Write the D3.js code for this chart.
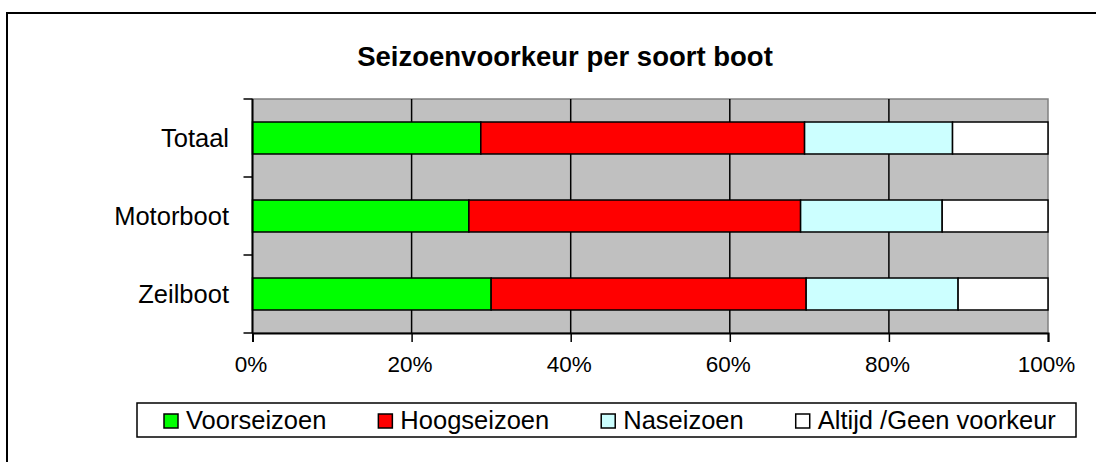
<!DOCTYPE html>
<html>
<head>
<meta charset="utf-8">
<script src="https://cdn.jsdelivr.net/npm/d3@7"></script>
<style>
  body { margin: 0; background: #fff; }
  text { font-family: Arial, "Liberation Sans", sans-serif; fill: #000; }
</style>
</head>
<body>
<script>
// chart data (percent)
const categories = ["Totaal", "Motorboot", "Zeilboot"];
const seriesNames = ["Voorseizoen", "Hoogseizoen", "Naseizoen", "Altijd /Geen voorkeur"];
const voorseizoen = [28.7, 27.2, 30.0];
const hoogseizoen = [40.7, 41.7, 39.6];
const naseizoen = [18.6, 17.8, 19.1];
const altijd = [12.0, 13.3, 11.3];
const tickValues = [0, 20, 40, 60, 80, 100];
const seriesColors = ["#00ff00", "#ff0000", "#ccffff", "#ffffff"];

const width = 1096, height = 462;

let svg = d3.select("body").append("svg")
    .attr("width", width)
    .attr("height", height);

// outer chart frame (runs off the right and bottom edge)
svg.append("rect")
    .attr("x", 7).attr("y", 13)
    .attr("width", 1100).attr("height", 470)
    .attr("fill", "#fff").attr("stroke", "#000").attr("stroke-width", 2);

// title
svg.append("text")
    .attr("x", 565).attr("y", 66)
    .attr("text-anchor", "middle")
    .style("font-size", "27.5px").style("font-weight", "bold")
    .text("Seizoenvoorkeur per soort boot");

let x = d3.scaleLinear().domain([0, 100]).range([252.5, 1048]);
let y = d3.scaleBand().domain(categories).range([99, 333])
    .paddingInner(0.59).paddingOuter(0.295);

// table for the stack
let rows = categories.map((c, i) => ({
    cat: c,
    [seriesNames[0]]: voorseizoen[i],
    [seriesNames[1]]: hoogseizoen[i],
    [seriesNames[2]]: naseizoen[i],
    [seriesNames[3]]: altijd[i]
}));
let stacked = d3.stack().keys(seriesNames)(rows);

// plot area background
svg.append("rect")
    .attr("x", x(0)).attr("y", 99)
    .attr("width", x(100) - x(0)).attr("height", 333 - 99)
    .attr("fill", "#c0c0c0").attr("stroke", "#808080").attr("stroke-width", 1.5);

// vertical gridlines
svg.selectAll(".grid")
    .data(tickValues.slice(1, -1))
    .enter().append("line")
    .attr("class", "grid")
    .attr("x1", d => x(d)).attr("x2", d => x(d))
    .attr("y1", 99).attr("y2", 333)
    .attr("stroke", "#000").attr("stroke-width", 1.5);

// stacked bars
let groups = svg.selectAll(".serie")
    .data(stacked)
    .enter().append("g")
    .attr("class", "serie")
    .attr("fill", (d, i) => seriesColors[i]);

groups.selectAll("rect")
    .data(d => d)
    .enter().append("rect")
    .attr("x", d => x(d[0]))
    .attr("y", d => y(d.data.cat))
    .attr("width", d => x(d[1]) - x(d[0]))
    .attr("height", y.bandwidth())
    .attr("stroke", "#000").attr("stroke-width", 1.5);

// x axis
let xAxis = d3.axisBottom(x)
    .tickValues(tickValues)
    .tickFormat(d => d + "%")
    .tickSize(9)
    .tickPadding(14);
let gx = svg.append("g").attr("transform", "translate(0,333)").call(xAxis);
gx.select(".domain").attr("stroke", "#000").attr("stroke-width", 2);
gx.selectAll(".tick line").attr("stroke", "#000").attr("stroke-width", 1.5);
gx.selectAll(".tick text").style("font-size", "22.5px").attr("font-family", null)
    .attr("dx", -2);

// y axis: line, ticks between categories, labels
svg.append("line")
    .attr("x1", x(0)).attr("x2", x(0)).attr("y1", 99).attr("y2", 333)
    .attr("stroke", "#000").attr("stroke-width", 2);

let bounds = d3.range(categories.length + 1).map(i => 99 + i * y.step());
svg.selectAll(".ytick")
    .data(bounds)
    .enter().append("line")
    .attr("class", "ytick")
    .attr("x1", x(0) - 9).attr("x2", x(0))
    .attr("y1", d => d).attr("y2", d => d)
    .attr("stroke", "#000").attr("stroke-width", 1.5);

svg.selectAll(".ylabel")
    .data(categories)
    .enter().append("text")
    .attr("class", "ylabel")
    .attr("x", 229)
    .attr("y", d => y(d) + y.bandwidth() / 2)
    .attr("dy", "0.35em")
    .attr("text-anchor", "end")
    .style("font-size", "25.5px")
    .text(d => d);

// legend
let legend = svg.append("g");
legend.append("rect")
    .attr("x", 137).attr("y", 403)
    .attr("width", 1076 - 137).attr("height", 34)
    .attr("fill", "#fff").attr("stroke", "#000").attr("stroke-width", 1.5);

let lx = 164;
seriesNames.forEach((name, i) => {
    legend.append("rect")
        .attr("x", lx).attr("y", 414)
        .attr("width", 14).attr("height", 14)
        .attr("fill", seriesColors[i])
        .attr("stroke", "#000").attr("stroke-width", 1.5);
    let t = legend.append("text")
        .attr("x", lx + 22).attr("y", 429)
        .style("font-size", "25.5px")
        .text(name);
    lx = lx + 22 + t.node().getComputedTextLength() + 52;
});
</script>
</body>
</html>
